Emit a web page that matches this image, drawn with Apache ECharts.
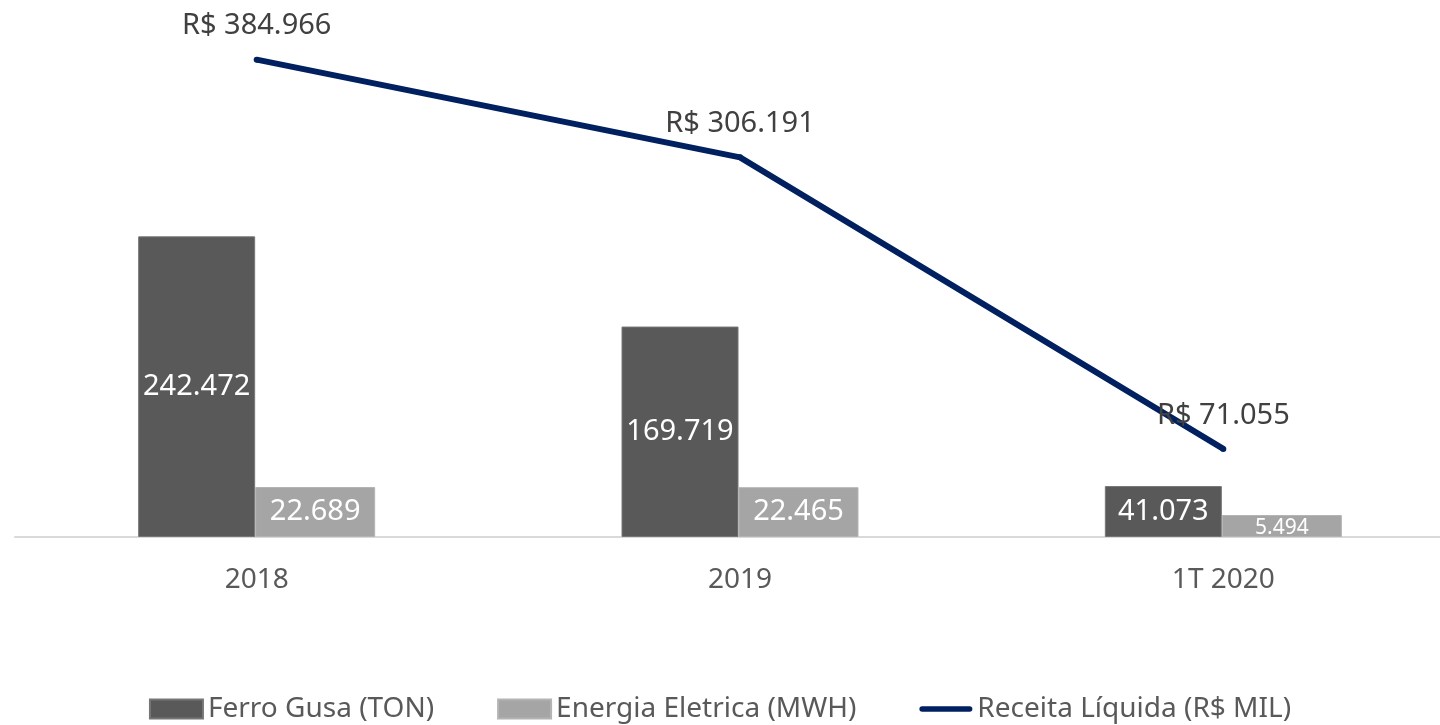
<!DOCTYPE html>
<html>
<head>
<meta charset="utf-8">
<title>Ferro Gusa / Energia / Receita</title>
<script src="https://cdn.jsdelivr.net/npm/echarts@6/dist/echarts.min.js"></script>
<style>
  html, body { margin: 0; padding: 0; background: #fff; }
  #chart { width: 1440px; height: 725px; }
</style>
</head>
<body>
<div id="chart"></div>
<script>
// dados
const categorias = ['2018', '2019', '1T 2020'];
const ferroGusa = [242472, 169719, 41073];     // TON
const energiaEletrica = [22689, 22465, 5494];  // MWH
const receitaLiquida = [384966, 306191, 71055]; // R$ MIL

const fmt = v => v.toLocaleString('en-US').replace(/,/g, '.');

const chart = echarts.init(document.getElementById('chart'));

const option = {
  backgroundColor: '#ffffff',
  textStyle: { fontFamily: 'Noto Sans' },
  animation: false,
  grid: { left: 15, width: 1450, top: 41, bottom: 188, outerBoundsMode: 'none' },
  legend: {
    top: 690,
    left: 'center',
    itemWidth: 53,
    itemHeight: 19,
    itemGap: 63,
    textStyle: { color: '#595959', fontSize: 28 },
    data: [
      { name: 'Ferro Gusa (TON)', icon: 'rect' },
      { name: 'Energia Eletrica (MWH)', icon: 'rect' },
      { name: 'Receita Líquida (R$ MIL)', icon: 'path://M3,0 H54 A3,3 0 0 1 54,6 H3 A3,3 0 0 1 3,0 Z' }
    ]
  },
  xAxis: {
    type: 'category',
    data: categorias,
    axisLine: { lineStyle: { color: '#d9d9d9', width: 2 } },
    axisTick: { show: false },
    axisLabel: { color: '#595959', fontSize: 28, margin: 29 }
  },
  yAxis: [
    { type: 'value', min: 0, max: 400000, show: false, splitLine: { show: false } },
    // eixo secundário das barras de energia (escala log, oculto)
    { type: 'log', logBase: 10, min: 1803, max: 1.47e14, startValue: 1803, show: false, splitLine: { show: false } }
  ],
  series: [
    {
      name: 'Ferro Gusa (TON)',
      type: 'bar',
      yAxisIndex: 0,
      barWidth: 117,
      barGap: '0%',
      data: ferroGusa,
      itemStyle: { color: '#595959', borderColor: '#767676', borderWidth: 1 },
      label: {
        show: true,
        position: 'inside',
        color: '#ffffff',
        fontSize: 29,
        formatter: p => fmt(p.value)
      }
    },
    {
      name: 'Energia Eletrica (MWH)',
      type: 'bar',
      yAxisIndex: 1,
      barWidth: 120,
      barGap: '0%',
      data: energiaEletrica.map((v, i) => ({
        value: v,
        label: i === 2 ? { fontSize: 21, offset: [0, 2] } : undefined
      })),
      itemStyle: { color: '#a5a5a5', borderColor: '#b4b4b4', borderWidth: 1 },
      label: {
        show: true,
        position: 'inside',
        color: '#ffffff',
        fontSize: 29,
        formatter: p => fmt(p.value)
      }
    },
    {
      name: 'Receita Líquida (R$ MIL)',
      type: 'line',
      yAxisIndex: 0,
      data: receitaLiquida,
      symbol: 'circle',
      symbolSize: 6,
      itemStyle: { color: '#002060' },
      lineStyle: { color: '#002060', width: 6 },
      label: {
        show: true,
        position: 'top',
        distance: 16,
        color: '#404040',
        fontSize: 29,
        formatter: p => 'R$ ' + fmt(p.value)
      },
      z: 5
    }
  ]
};

chart.setOption(option);
window.addEventListener('resize', () => chart.resize());
</script>
</body>
</html>
